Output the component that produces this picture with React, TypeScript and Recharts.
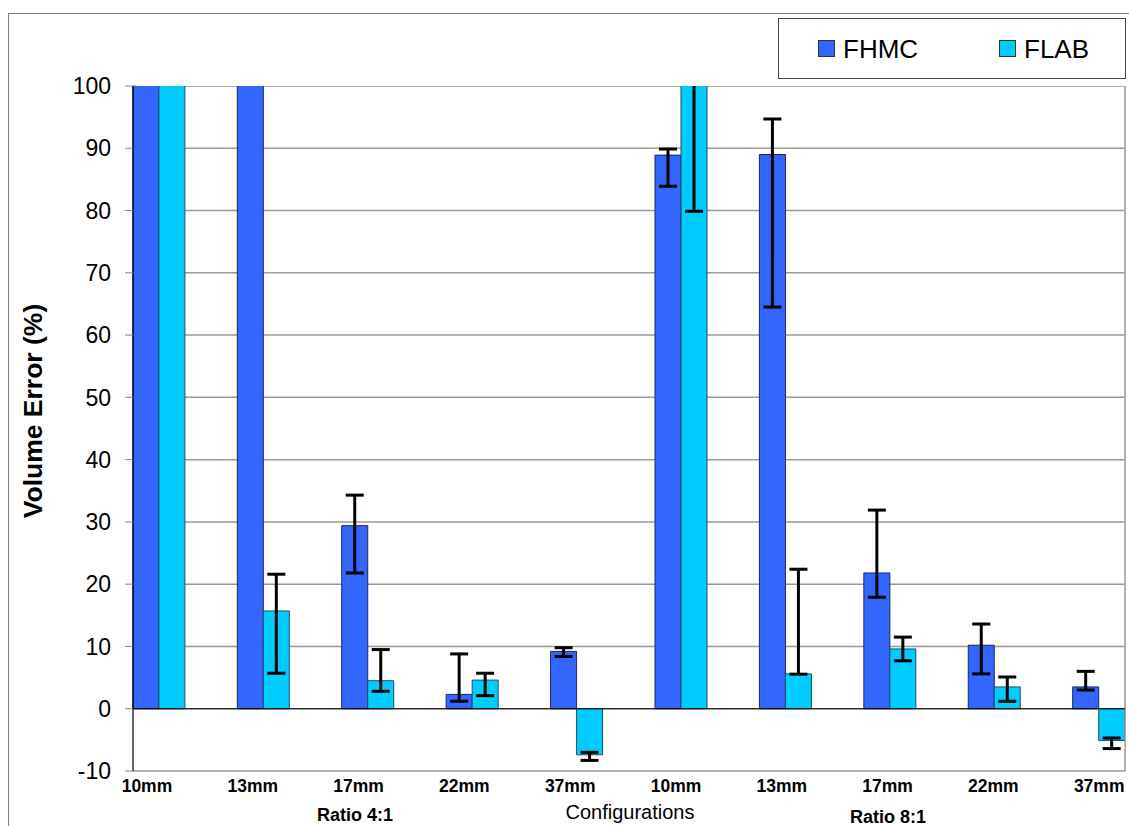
import React from 'react';
import { BarChart, Bar, XAxis, YAxis, CartesianGrid, ErrorBar, ReferenceLine } from 'recharts';

// ---------- data ----------
const categories = ['10mm', '13mm', '17mm', '22mm', '37mm', '10mm', '13mm', '17mm', '22mm', '37mm'];
const fhmcValues = [125, 125, 29.4, 2.3, 9.2, 88.9, 89.0, 21.8, 10.2, 3.5];
const flabValues = [125, 15.7, 4.5, 4.6, -7.4, 125, 5.6, 9.6, 3.5, -5.1];
// error deltas: [below, above]
const fhmcErrLow = [null, null, 7.6, 1.1, 0.8, 5.0, 24.5, 3.9, 4.6, 0.5];
const fhmcErrHigh = [null, null, 4.9, 6.5, 0.6, 1.0, 5.7, 10.1, 3.4, 2.5];
const flabErrLow = [null, 10.0, 1.7, 2.5, 0.9, 45.1, 0.05, 1.9, 2.3, 1.3];
const flabErrHigh = [null, 5.9, 5.0, 1.1, 0.4, 10.0, 16.8, 1.9, 1.6, 0.4];
const yTicks = [-10, 0, 10, 20, 30, 40, 50, 60, 70, 80, 90, 100];
const xTicks = [0, 1, 2, 3, 4, 5, 6, 7, 8, 9];
const seriesNames = ['FHMC', 'FLAB'];
const seriesColors = ['#3366FF', '#00CCFF'];

const data = categories.map((name, i) => ({
  idx: i,
  name,
  fhmc: fhmcValues[i],
  flab: flabValues[i],
  fhmcErr: fhmcErrLow[i] == null ? undefined : [fhmcErrLow[i], fhmcErrHigh[i]],
  flabErr: flabErrLow[i] == null ? undefined : [flabErrLow[i], flabErrHigh[i]],
}));

const FONT = '"Liberation Sans", Arial, Helvetica, sans-serif';

const XTick = (props: any) => {
  const { x, y, payload } = props;
  const label = categories[Math.round(payload.value)];
  return (
    <text x={x} y={y} dy={21} textAnchor="middle" fontFamily={FONT} fontWeight="bold" fontSize={17.5} fill="#000">
      {label}
    </text>
  );
};

// clip the chart layer above the plot top (to the right of the y axis), like the source chart
const chartClip = 'polygon(0px 0px, 128px 0px, 128px 78px, 1121px 78px, 1121px 818px, 0px 818px)';

export default function App() {
  return (
    <div style={{ position: 'relative', width: 1121, height: 818, overflow: 'hidden', fontFamily: FONT }}>
      <style>{'html { overflow: hidden; } body { margin-right: 0; } #root { width: 1121px; }'}</style>
      <div
        style={{
          position: 'absolute',
          left: 0,
          top: 5,
          width: 1300,
          height: 1000,
          border: '1px solid #808080',
          boxSizing: 'border-box',
        }}
      />
      <div style={{ position: 'absolute', left: 0, top: 0, clipPath: chartClip }}>
        <BarChart
          width={1121}
          height={818}
          data={data}
          margin={{ top: 78, right: 4, left: 65, bottom: 0 }}
          barGap={0}
          barSize={26}
        >
          <CartesianGrid horizontal vertical={false} stroke="#999" strokeWidth={1.5} />
          <XAxis
            xAxisId="bars"
            dataKey="idx"
            type="number"
            domain={[-0.25, 9.25]}
            ticks={xTicks}
            height={0}
            hide
          />
          <XAxis
            xAxisId="labels"
            dataKey="idx"
            type="number"
            domain={[-0.132, 9.244]}
            ticks={xTicks}
            axisLine={false}
            tickLine={false}
            tickSize={0}
            tickMargin={0}
            height={55}
            interval={0}
            tick={<XTick />}
          />
          <YAxis
            domain={[-10, 100]}
            ticks={yTicks}
            allowDataOverflow
            width={60}
            interval={0}
            tickSize={8}
            tickMargin={14}
            tickLine={{ stroke: '#888' }}
            axisLine={{ stroke: '#000', strokeWidth: 1.2 }}
            tick={{ fontSize: 23, fill: '#000', fontFamily: FONT }}
          />
          <ReferenceLine xAxisId="bars" x={9.25} stroke="#999" strokeWidth={1.5} />
          <ReferenceLine xAxisId="bars" y={0} stroke="#000" strokeWidth={1.2} />
          <Bar
            xAxisId="bars"
            dataKey="fhmc"
            name={seriesNames[0]}
            fill={seriesColors[0]}
            stroke="#1b2460"
            strokeWidth={1}
            isAnimationActive={false}
          >
            <ErrorBar dataKey="fhmcErr" width={9} strokeWidth={3} stroke="#000" direction="y" />
          </Bar>
          <Bar
            xAxisId="bars"
            dataKey="flab"
            name={seriesNames[1]}
            fill={seriesColors[1]}
            stroke="#1f4f5f"
            strokeWidth={1}
            isAnimationActive={false}
          >
            <ErrorBar dataKey="flabErr" width={9} strokeWidth={3} stroke="#000" direction="y" />
          </Bar>
        </BarChart>
      </div>

      {/* legend */}
      <div
        style={{
          position: 'absolute',
          left: 770,
          top: 10,
          width: 348,
          height: 61,
          border: '1px solid #444',
          boxSizing: 'border-box',
          background: '#fff',
        }}
      >
        {seriesNames.map((n, i) => (
          <div
            key={n}
            style={{
              position: 'absolute',
              left: i === 0 ? 39 : 220,
              top: 0,
              height: 59,
              display: 'flex',
              alignItems: 'center',
            }}
          >
            <div
              style={{
                width: 15,
                height: 15,
                background: seriesColors[i],
                border: '1px solid #333',
                marginRight: 8,
              }}
            />
            <span style={{ fontSize: 26, color: '#000', lineHeight: '26px' }}>{n}</span>
          </div>
        ))}
      </div>

      {/* extra texts */}
      <svg width={1121} height={818} style={{ position: 'absolute', left: 0, top: 0, pointerEvents: 'none' }}>
        <text
          x={25}
          y={403}
          transform="rotate(-90 25 403)"
          textAnchor="middle"
          dominantBaseline="central"
          fontFamily={FONT}
          fontWeight="bold"
          fontSize={26.5}
          fill="#000"
        >
          Volume Error (%)
        </text>
        <text x={347} y={807} textAnchor="middle" dominantBaseline="central" fontFamily={FONT} fontWeight="bold" fontSize={18} fill="#000">
          Ratio 4:1
        </text>
        <text x={622} y={804} textAnchor="middle" dominantBaseline="central" fontFamily={FONT} fontSize={20} fill="#000">
          Configurations
        </text>
        <text x={880} y={809} textAnchor="middle" dominantBaseline="central" fontFamily={FONT} fontWeight="bold" fontSize={18} fill="#000">
          Ratio 8:1
        </text>
      </svg>
    </div>
  );
}
